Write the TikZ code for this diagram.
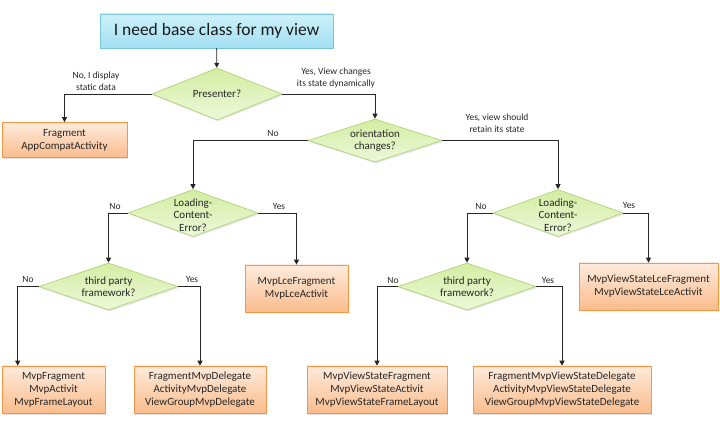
\documentclass[tikz,border=0pt]{standalone}
\usepackage{fontspec}
\setmainfont{Carlito}
\usetikzlibrary{shapes.geometric,arrows.meta,shadows}
\definecolor{boxline}{HTML}{F79646}
\definecolor{boxtop}{HTML}{FEEBDC}
\definecolor{boxbot}{HTML}{FABC8C}
\definecolor{diaLine}{HTML}{A8D26A}
\definecolor{diaTop}{HTML}{D3EDA2}
\definecolor{diaBot}{HTML}{EDF8DA}
\definecolor{titLine}{HTML}{7CC6DC}
\definecolor{titTop}{HTML}{CDF1FB}
\definecolor{titBot}{HTML}{A3DFF2}
\tikzset{
  x=1pt, y=-1pt,
  cls/.style={draw=boxline, line width=0.6pt, top color=boxtop, bottom color=boxbot,
    align=center, font=\fontsize{11}{13}\selectfont, inner sep=0pt, text=black!85,
    drop shadow={opacity=0.25, shadow xshift=1pt, shadow yshift=-1.5pt}},
  dia/.style={diamond, draw=diaLine, line width=0.6pt, top color=diaTop, bottom color=diaBot,
    inner sep=0pt, drop shadow={opacity=0.2, shadow xshift=1pt, shadow yshift=-1.5pt}},
  diatext/.style={align=center, font=\fontsize{11}{12.5}\selectfont, text=black!85},
  titlebox/.style={draw=titLine, line width=0.6pt, top color=titTop, bottom color=titBot,
    font=\fontsize{17.5}{20}\selectfont, inner sep=0pt, text=black!90,
    drop shadow={opacity=0.25, shadow xshift=1pt, shadow yshift=-1.5pt}},
  lbl/.style={align=center, font=\fontsize{9.5}{12}\selectfont, inner sep=0pt, text=black!85},
  arr/.style={draw=black!85, line width=0.8pt, -{Triangle[width=5pt,length=5pt]}},
}
\begin{document}
\begin{tikzpicture}
\useasboundingbox (0,0) rectangle (720,435);

% title
\node[titlebox, minimum width=233pt, minimum height=34pt] (title) at (216.5,31) {I need base class for my view};

% diamonds
\node[dia, minimum width=130pt, minimum height=52pt] (pres) at (217,94) {};
\node[diatext] (presT) at (pres) {Presenter?};
\node[dia, minimum width=134pt, minimum height=43pt] (orient) at (375,140.5) {};
\node[diatext] (orientT) at (orient) {orientation\\changes?};
\node[dia, minimum width=130pt, minimum height=47pt] (load1) at (193,213) {};
\node[diatext] (load1T) at (193,215) {Loading-\\Content-\\Error?};
\node[dia, minimum width=130pt, minimum height=47pt] (load2) at (558,213) {};
\node[diatext] (load2T) at (558,215) {Loading-\\Content-\\Error?};
\node[dia, minimum width=139pt, minimum height=47pt] (third1) at (108.5,286.5) {};
\node[diatext] (third1T) at (third1) {third party\\framework?};
\node[dia, minimum width=138pt, minimum height=47pt] (third2) at (467,286.5) {};
\node[diatext] (third2T) at (third2) {third party\\framework?};

% class boxes
\node[cls, minimum width=125pt, minimum height=35pt] (frag) at (64.5,140) {Fragment\\AppCompatActivity};
\node[cls, minimum width=103pt, minimum height=47pt] (lce1) at (296.5,288.5) {MvpLceFragment\\MvpLceActivit};
\node[cls, minimum width=139pt, minimum height=47pt] (lce2) at (648.5,286.5) {MvpViewStateLceFragment\\MvpViewStateLceActivit};
\node[cls, minimum width=103pt, minimum height=47pt] (b1) at (53.5,389.5) {MvpFragment\\MvpActivit\\MvpFrameLayout};
\node[cls, minimum width=132pt, minimum height=47pt] (b2) at (200,389.5) {FragmentMvpDelegate\\ActivityMvpDelegate\\ViewGroupMvpDelegate};
\node[cls, minimum width=140pt, minimum height=47pt] (b3) at (377,389.5) {MvpViewStateFragment\\MvpViewStateActivit\\MvpViewStateFrameLayout};
\node[cls, minimum width=178pt, minimum height=47pt] (b4) at (562,389.5) {FragmentMvpViewStateDelegate\\ActivityMvpViewStateDelegate\\ViewGroupMvpViewStateDelegate};

% connectors
\draw[arr] (title) -- (pres);
\draw[arr] (pres.west) -| (frag.north);
\draw[arr] (pres.east) -| (orient.north);
\draw[arr] (orient.west) -| (load1.north);
\draw[arr] (orient.east) -| (load2.north);
\draw[arr] (load1.west) -| (third1.north);
\draw[arr] (load1.east) -| (lce1.north);
\draw[arr] (load2.west) -| (third2.north);
\draw[arr] (load2.east) -| (lce2.north);
\draw[arr] (third1.west) -| ([xshift=16pt]b1.north west);
\draw[arr] (third1.east) -| (b2.north);
\draw[arr] (third2.west) -| (b3.north);
\draw[arr] (third2.east) -| (b4.north);

% labels
\node[lbl] (l1) at (96,81) {No, I display\\static data};
\node[lbl] (l2) at (336,78) {Yes, View changes\\its state dynamically};
\node[lbl] (l3) at (273,133.5) {No};
\node[lbl] (l4) at (497,123) {Yes, view should\\retain its state};
\node[lbl] (l5) at (115,206) {No};
\node[lbl] (l6) at (279,206) {Yes};
\node[lbl] (l7) at (481,206) {No};
\node[lbl] (l8) at (629,205.5) {Yes};
\node[lbl] (l9) at (28,279.5) {No};
\node[lbl] (l10) at (192,279.5) {Yes};
\node[lbl] (l11) at (393,280) {No};
\node[lbl] (l12) at (548,280) {Yes};
\end{tikzpicture}
\end{document}
